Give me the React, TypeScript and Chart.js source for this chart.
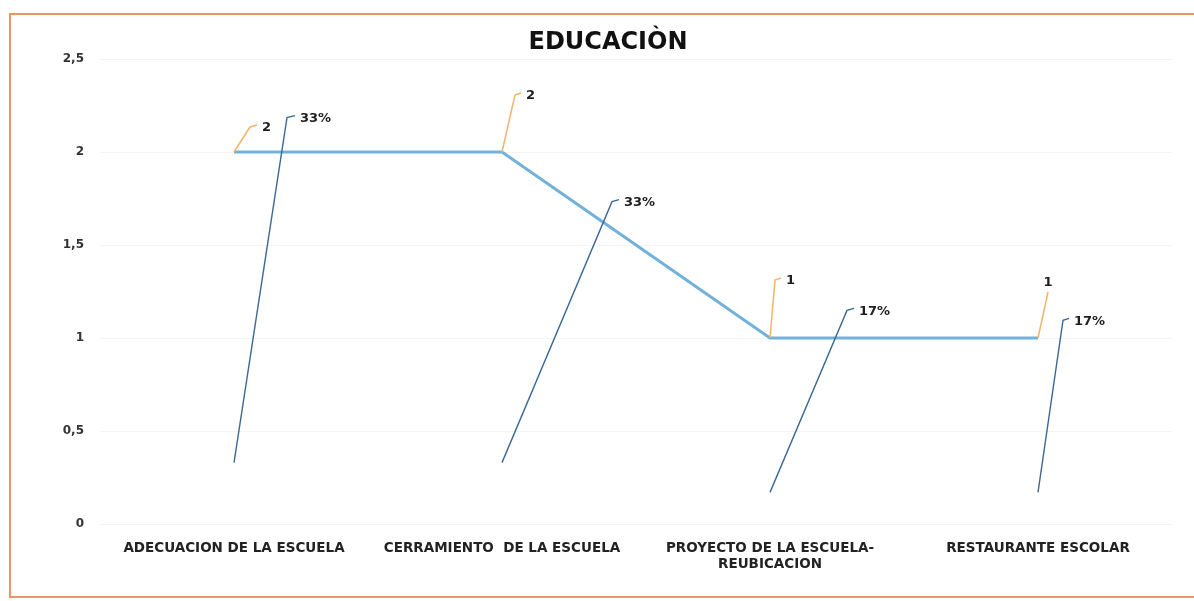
import React, { useEffect, useRef } from "react";
import { Chart, registerables } from "chart.js";

Chart.register(...registerables);

const TITLE = "EDUCACIÒN";
const categories: string[][] = [
  ["ADECUACION DE LA ESCUELA"],
  ["CERRAMIENTO  DE LA ESCUELA"],
  ["PROYECTO DE LA ESCUELA-", "REUBICACION"],
  ["RESTAURANTE ESCOLAR"],
];
const counts = [2, 2, 1, 1];
const shares = [0.33, 0.33, 0.17, 0.17];
const Y_MIN = 0;
const Y_MAX = 2.5;
const Y_STEP = 0.5;

// leader-line styling (pixel offsets of the elbow from the anchor point)
const countLeaders = [
  { dx: 16, dy: -25, tick: 7, align: "left" },
  { dx: 13, dy: -57, tick: 6, align: "left" },
  { dx: 5, dy: -58, tick: 6, align: "left" },
  { dx: 10, dy: -46, tick: 0, align: "center" },
];
const shareLeaders = [
  { dx: 53, dy: -345, tick: 8, align: "left" },
  { dx: 110, dy: -261, tick: 7, align: "left" },
  { dx: 77, dy: -182, tick: 7, align: "left" },
  { dx: 25, dy: -172, tick: 6, align: "left" },
];

const FONT = "'DejaVu Sans', Verdana, sans-serif";

const leaderPlugin = {
  id: "leaders",
  afterDatasetsDraw(chart: any) {
    const ctx = chart.ctx as CanvasRenderingContext2D;
    const draw = (dsIndex: number, leaders: any[], color: string, width: number, texts: string[]) => {
      const meta = chart.getDatasetMeta(dsIndex);
      meta.data.forEach((pt: any, i: number) => {
        const L = leaders[i];
        const ex = pt.x + L.dx;
        const ey = pt.y + L.dy;
        ctx.save();
        ctx.strokeStyle = color;
        ctx.lineWidth = width;
        ctx.beginPath();
        ctx.moveTo(pt.x, pt.y);
        ctx.lineTo(ex, ey);
        if (L.tick) ctx.lineTo(ex + L.tick, ey - 2);
        ctx.stroke();
        ctx.fillStyle = "#1e1e1e";
        ctx.font = `bold 13px ${FONT}`;
        if (L.align === "center") {
          ctx.textAlign = "center";
          ctx.textBaseline = "bottom";
          ctx.fillText(texts[i], ex, ey - 3);
        } else {
          ctx.textAlign = "left";
          ctx.textBaseline = "middle";
          ctx.fillText(texts[i], ex + L.tick + 5, ey + 1);
        }
        ctx.restore();
      });
    };
    draw(0, countLeaders, "#f2b46c", 1.5, counts.map((v) => String(v)));
    draw(1, shareLeaders, "#3d6a94", 1.4, shares.map((v) => Math.round(v * 100) + "%"));
  },
  afterDraw(chart: any) {
    const ctx = chart.ctx as CanvasRenderingContext2D;
    ctx.save();
    ctx.fillStyle = "#111";
    ctx.font = `bold 24px ${FONT}`;
    ctx.textAlign = "center";
    ctx.textBaseline = "middle";
    ctx.fillText(TITLE, 608, 43);
    ctx.restore();
  },
};

export default function App() {
  const ref = useRef<HTMLCanvasElement | null>(null);
  useEffect(() => {
    if (!ref.current) return;
    const chart = new Chart(ref.current, {
      type: "line",
      data: {
        labels: categories,
        datasets: [
          {
            label: "Cantidad",
            data: counts,
            borderColor: "#72b2da",
            borderWidth: 3,
            pointRadius: 0,
            tension: 0,
          },
          {
            label: "Porcentaje",
            data: shares,
            showLine: false,
            pointRadius: 0,
            borderColor: "transparent",
          },
        ],
      },
      options: {
        responsive: false,
        animation: false,
        layout: { padding: { top: 59, right: 22, left: 0, bottom: 0 } },
        plugins: {
          legend: { display: false },
          title: { display: false },
          tooltip: { enabled: false },
        },
        scales: {
          x: {
            offset: true,
            grid: { display: false },
            border: { display: false },
            ticks: {
              color: "#222",
              font: { family: FONT, size: 13.5, weight: "bold", lineHeight: 1.2 },
              padding: 8,
              maxRotation: 0,
              autoSkip: false,
            },
            afterFit: (s: any) => {
              s.height = 77;
            },
          },
          y: {
            min: Y_MIN,
            max: Y_MAX,
            grid: { color: "rgba(0,0,0,0.045)", drawTicks: false },
            border: { display: false },
            ticks: {
              stepSize: Y_STEP,
              color: "#333",
              padding: 16,
              font: { family: FONT, size: 12, weight: "bold" },
              callback: (v: any) => String(v).replace(".", ","),
            },
            afterFit: (s: any) => {
              s.width = 100;
            },
          },
        },
      },
      plugins: [leaderPlugin],
    });
    return () => chart.destroy();
  }, []);

  return (
    <div
      style={{
        position: "fixed",
        left: 0,
        top: 0,
        width: 1194,
        height: 601,
        background: "#fff",
        overflow: "hidden",
      }}
    >
      <div
        style={{
          position: "absolute",
          left: 9,
          top: 13,
          width: 1200,
          height: 585,
          border: "2px solid #e8985f",
          boxSizing: "border-box",
        }}
      />
      <canvas
        ref={ref}
        width={1194}
        height={601}
        style={{ position: "absolute", left: 0, top: 0 }}
      />
    </div>
  );
}
